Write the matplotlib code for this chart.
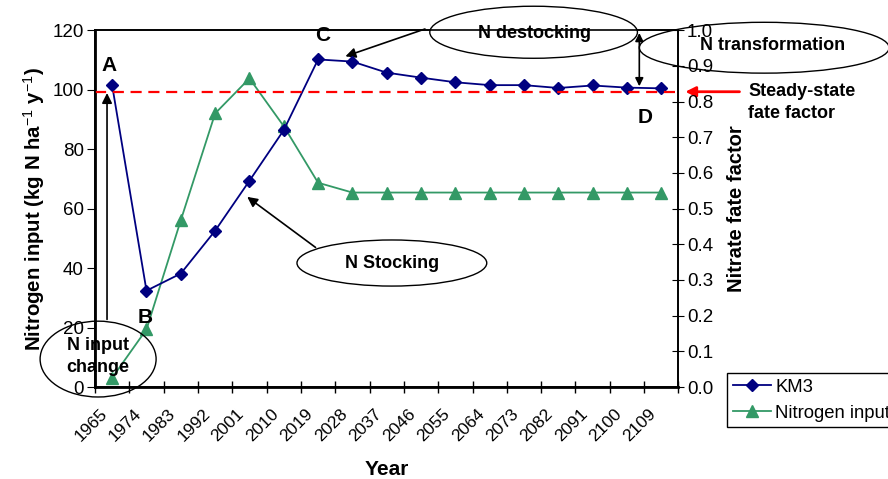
import matplotlib
matplotlib.use("Agg")
import matplotlib.pyplot as plt
import matplotlib.transforms as mtransforms
from matplotlib.patches import Ellipse
import numpy as np

plt.rcParams['font.family'] = ['Liberation Sans', 'DejaVu Sans']
plt.rcParams['mathtext.fontset'] = 'custom'
plt.rcParams['mathtext.rm'] = 'Liberation Sans'
plt.rcParams['mathtext.bf'] = 'Liberation Sans:bold'

years = ['1965', '1974', '1983', '1992', '2001', '2010', '2019', '2028', '2037',
         '2046', '2055', '2064', '2073', '2082', '2091', '2100', '2109']
km3 = [0.845, 0.270, 0.318, 0.438, 0.578, 0.720, 0.918, 0.912, 0.881,
       0.867, 0.854, 0.846, 0.846, 0.838, 0.845, 0.839, 0.837]
n_input = [3.1, 19.4, 56.1, 92.0, 103.8, 87.7, 68.7, 65.4, 65.4,
           65.4, 65.4, 65.4, 65.4, 65.4, 65.4, 65.4, 65.4]
steady_state = 0.828

navy = '#000080'
green = '#339966'

fig = plt.figure(figsize=(8.88, 4.79), dpi=100)
ax1 = fig.add_axes([0.107, 0.192, 0.657, 0.745])
ax2 = ax1.twinx()

x = np.arange(len(years))
l2, = ax1.plot(x, n_input, color=green, marker='^', markersize=8, lw=1.3,
               label='Nitrogen input')
l1, = ax2.plot(x, km3, color=navy, marker='D', markersize=6, lw=1.3, label='KM3')
ax2.axhline(steady_state, color='red', ls=(0, (5, 3)), lw=1.6)

ax1.set_xlim(-0.5, len(years) - 0.5)
ax1.set_ylim(0, 120)
ax1.set_yticks(range(0, 121, 20))
ax2.set_ylim(0, 1.0)
ax2.set_yticks(np.arange(0, 1.01, 0.1))
ax2.set_yticklabels(['%.1f' % v for v in np.arange(0, 1.01, 0.1)])

ax1.set_xticks(x)
ax1.set_xticklabels(years, rotation=45, ha='right', rotation_mode='anchor')
ax1.set_xticks(np.arange(-0.5, len(years), 1), minor=True)
ax1.tick_params(axis='x', which='major', length=0, pad=14, labelsize=12.5)
ax1.tick_params(axis='x', which='minor', length=8, direction='inout', width=1)
ax1.tick_params(axis='y', length=6, direction='out', labelsize=13.5, pad=2)
ax2.tick_params(axis='y', length=8, direction='inout', labelsize=13.5, pad=2)
# shift the rotated year labels a little to the left, like the original
shift = mtransforms.ScaledTranslation(-0.13, 0, fig.dpi_scale_trans)
for lab in ax1.get_xticklabels():
    lab.set_transform(lab.get_transform() + shift)

for a in (ax1, ax2):
    for s in a.spines.values():
        s.set_linewidth(1.2)
ax1.spines['left'].set_linewidth(2)
ax1.spines['bottom'].set_linewidth(2)

ax1.set_ylabel('Nitrogen input (kg N ha$^{-1}$ y$^{-1}$)',
               fontsize=14.7, fontweight='bold', labelpad=4)
ax2.set_ylabel('Nitrate fate factor', fontsize=14.5, fontweight='bold', labelpad=10)
ax1.set_xlabel('Year', fontsize=15, fontweight='bold', labelpad=11)

# letters
for txt, px, py in [('A', -0.09, 108.2), ('B', 0.96, 23.5), ('C', 6.14, 118.3), ('D', 15.54, 90.8)]:
    ax1.text(px, py, txt, fontsize=15, fontweight='bold', ha='center', va='center',
             clip_on=False, zorder=20)

# ellipses with labels
ax1.add_patch(Ellipse((12.28, 119.3), 6.05, 17.5, facecolor='white', edgecolor='black',
                      lw=1, clip_on=False, zorder=15))
ax1.text(12.31, 119.0, 'N destocking', fontsize=13, fontweight='bold', ha='center',
         va='center', zorder=16, clip_on=False)
ax1.add_patch(Ellipse((19.0, 114.1), 7.28, 17.1, facecolor='none', edgecolor='black',
                      lw=1, clip_on=False, zorder=15))
ax1.text(19.24, 115.0, 'N transformation', fontsize=13, fontweight='bold',
         ha='center', va='center', zorder=16, clip_on=False)
ax1.add_patch(Ellipse((8.15, 41.7), 5.53, 15.5, facecolor='white', edgecolor='black',
                      lw=1, clip_on=False, zorder=15))
ax1.text(8.15, 41.4, 'N Stocking', fontsize=13, fontweight='bold', ha='center',
         va='center', zorder=16)
ax1.add_patch(Ellipse((-0.41, 9.4), 3.38, 25.5, facecolor='none', edgecolor='black',
                      lw=1, clip_on=False, zorder=15))
ax1.text(-0.41, 10.3, 'N input\nchange', fontsize=13, fontweight='bold', ha='center',
         va='center', multialignment='center', zorder=16, clip_on=False,
         linespacing=1.35)

# arrows
arr = dict(arrowstyle='-|>', color='black', lw=1.2, mutation_scale=15)
ax1.annotate('', xy=(3.87, 64.5), xytext=(5.99, 46.4), arrowprops=arr, zorder=14)
ax1.annotate('', xy=(6.72, 110.9), xytext=(9.19, 120.7), arrowprops=arr,
             annotation_clip=False, zorder=14)
ax1.annotate('', xy=(-0.15, 99.8), xytext=(-0.15, 21.8), arrowprops=arr, zorder=14)
ax1.annotate('', xy=(15.36, 100.2), xytext=(15.36, 120.0),
             arrowprops=dict(arrowstyle='<|-|>', color='black', lw=1.2, mutation_scale=12),
             annotation_clip=False, zorder=14)
ax1.annotate('', xy=(16.62, 99.3), xytext=(18.36, 99.3),
             arrowprops=dict(arrowstyle='-|>', color='red', lw=2, mutation_scale=15),
             annotation_clip=False, zorder=14)
ax1.text(18.54, 95.8, 'Steady-state\nfate factor', fontsize=13, fontweight='bold',
         ha='left', va='center', clip_on=False, linespacing=1.4)

fig.legend([l1, l2], ['KM3', 'Nitrogen input'], loc='upper left',
           bbox_to_anchor=(0.8187, 0.2213), fontsize=13.3, frameon=True, fancybox=False,
           edgecolor='black', framealpha=1, borderpad=0.3, borderaxespad=0,
           handlelength=2.1, labelspacing=0.5, handletextpad=0.2)

fig.savefig('out.png', dpi=100)
